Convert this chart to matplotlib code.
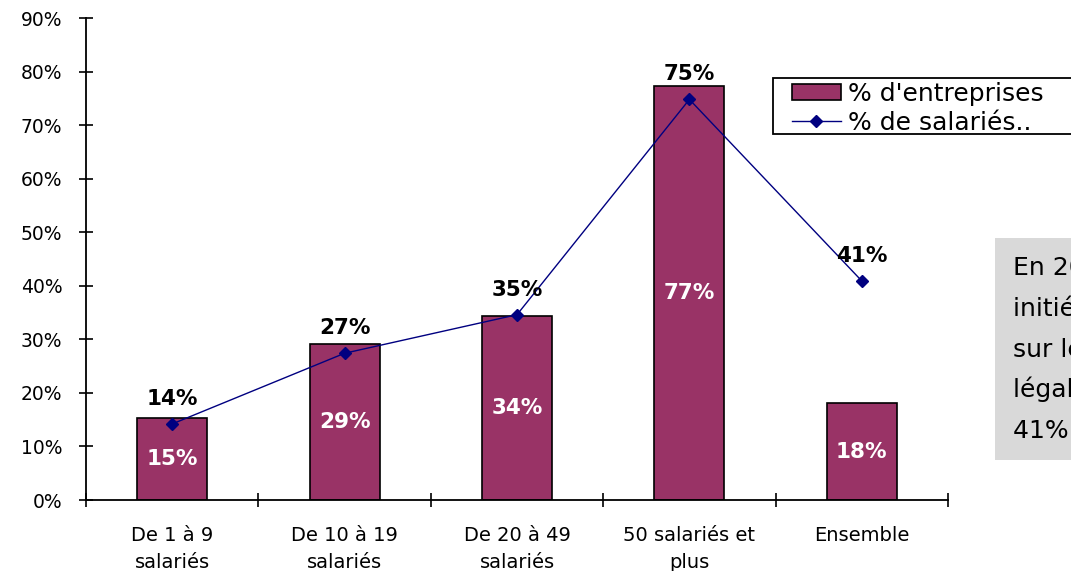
import matplotlib
matplotlib.use("Agg")
import matplotlib.pyplot as plt
from matplotlib.lines import Line2D
from matplotlib.patches import Patch, Rectangle

categories = ["De 1 à 9\nsalariés", "De 10 à 19\nsalariés", "De 20 à 49\nsalariés",
              "50 salariés et\nplus", "Ensemble"]
pct_entreprises = [15.4, 29.2, 34.4, 77.3, 18.1]
pct_salaries = [14.2, 27.4, 34.6, 74.8, 40.9]
yticks = [0, 10, 20, 30, 40, 50, 60, 70, 80, 90]
series_names = ["% d'entreprises", "% de salariés.."]
side_text = ["En 2005, les entreprises", "initiées à la formation", "sur le plan",
             "légal représentent", "41% des salariés"]

BAR = "#993366"
LINE = "#000080"
W, H = 1071, 571

fig = plt.figure(figsize=(W/100, H/100), dpi=100)
ax = fig.add_axes([86/W, 1-500/H, (948-86)/W, (500-18)/H])

x = list(range(len(categories)))
ax.bar(x, pct_entreprises, width=0.405, color=BAR, edgecolor="black", linewidth=1.2, zorder=2)
ax.plot(x, pct_salaries, color=LINE, linewidth=1.0, marker="D", markersize=6,
        markerfacecolor=LINE, markeredgecolor=LINE, zorder=3)

lab_font = dict(family="DejaVu Sans", fontweight="bold", fontsize=15.5)
for xi, v in zip(x, pct_entreprises):
    ax.text(xi, v/2, f"{round(v):d}%", color="white", ha="center", va="center", **lab_font)
for xi, v in zip(x, pct_salaries):
    ax.annotate(f"{round(v):d}%", (xi, v), xytext=(0, 18), textcoords="offset points",
                ha="center", va="center", color="black", **lab_font)

ax.set_xlim(-0.5, len(categories)-0.5)
ax.set_ylim(0, 90)
ax.set_yticks(yticks)
ax.set_yticklabels([f"{t}%" for t in yticks], family="DejaVu Sans", fontsize=13.5)
ax.set_xticks([i - 0.5 for i in range(len(categories)+1)])
ax.set_xticklabels([])
ax.set_xticks(x, minor=True)
ax.set_xticklabels(categories, minor=True, family="DejaVu Sans", fontsize=14,
                   linespacing=1.5)
ax.tick_params(axis="x", which="minor", length=0, pad=19)
ax.tick_params(axis="x", which="major", direction="inout", length=9.5, width=1.2)
ax.tick_params(axis="y", direction="inout", length=10, width=1.2, pad=12)
for s in ["top", "right"]:
    ax.spines[s].set_visible(False)
for s in ["left", "bottom"]:
    ax.spines[s].set_linewidth(1.3)

# legend
fig.patches.append(Rectangle((773/W, 1-134/H), 310/W, 56/H, transform=fig.transFigure,
                             facecolor="white", edgecolor="black", linewidth=1.3, zorder=4))
handles = [Patch(facecolor=BAR, edgecolor="black", linewidth=1.2),
           Line2D([0], [0], color=LINE, linewidth=1.0, marker="D", markersize=6)]
leg = fig.legend(handles, series_names, loc="upper left",
                 bbox_to_anchor=(792/W, 1-82/H), frameon=False,
                 prop=dict(family="DejaVu Sans", size=18),
                 borderpad=0, labelspacing=0.18, handlelength=1.95, handleheight=0.6,
                 handletextpad=0.3, borderaxespad=0)
leg.set_zorder(5)

# side note box (cut off by the right edge, as in the original)
fig.patches.append(Rectangle((995/W, 1-460/H), 100/W, 222/H, transform=fig.transFigure,
                             facecolor="#d9d9d9", edgecolor="none", zorder=0))
baselines = [275, 316, 357, 397, 438]
for yb, line in zip(baselines, side_text):
    fig.text(1013/W, 1-yb/H, line, family="DejaVu Sans",
             fontsize=18, va="baseline", ha="left", color="black")

fig.savefig("out.png", dpi=100)
